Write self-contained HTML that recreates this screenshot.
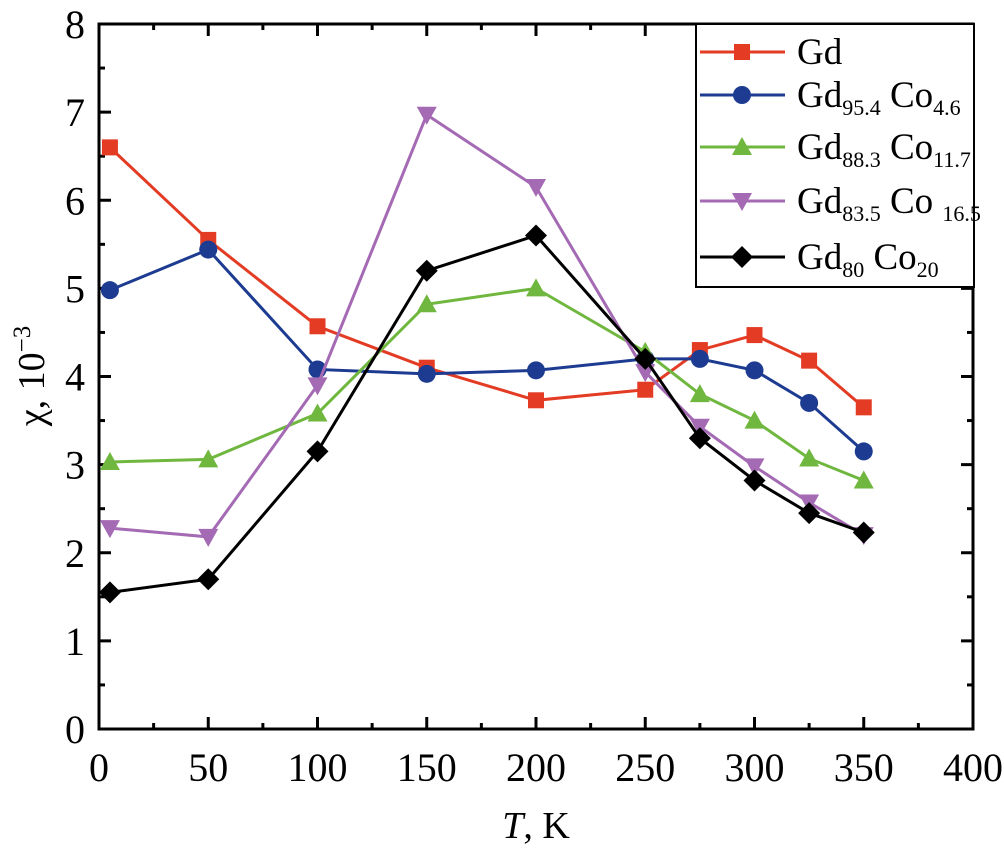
<!DOCTYPE html>
<html><head><meta charset="utf-8"><style>
html,body{margin:0;padding:0;background:#fff}
svg{display:block;font-family:"Liberation Serif",serif}
</style></head><body>
<svg id="c" width="1004" height="862" viewBox="0 0 1004 862" xmlns="http://www.w3.org/2000/svg"></svg>
<script>
const temps=[5,50,100,150,200,250,275,300,325,350];
const gd=[6.6,5.55,4.57,4.1,3.73,3.85,4.3,4.47,4.18,3.65];
const gd954=[4.98,5.44,4.08,4.03,4.07,4.2,4.2,4.07,3.7,3.15];
const gd883=[3.03,3.06,3.58,4.82,5.0,4.28,3.8,3.5,3.07,2.82];
const gd835=[2.28,2.18,3.9,6.97,6.15,4.05,3.43,2.98,2.57,2.2];
const gd80=[1.55,1.7,3.15,5.2,5.6,4.2,3.3,2.82,2.45,2.23];
const xTicks=[0,50,100,150,200,250,300,350,400];
const yTicks=[0,1,2,3,4,5,6,7,8];
const L=99,R=973,T=24,B=729;
const sx=v=>L+(v-0)/400*(R-L);
const sy=v=>B-(v-0)/8*(B-T);
const svg=document.getElementById('c');
const NS='http://www.w3.org/2000/svg';
function mk(tag,at,parent){const e=document.createElementNS(NS,tag);for(const k in at)e.setAttribute(k,at[k]);(parent||svg).appendChild(e);return e;}
let fr=mk('rect',{x:L,y:T,width:R-L,height:B-T,fill:'none',stroke:'#000','stroke-width':3});


for(let v=0;v<=400;v+=25){const x=sx(v),len=v%50===0?12:6;
 mk('line',{x1:x,y1:B,x2:x,y2:B-len,stroke:'#000','stroke-width':3});
 mk('line',{x1:x,y1:T,x2:x,y2:T+len,stroke:'#000','stroke-width':3});}
for(let v=0;v<=8;v+=0.5){const y=sy(v),len=v%1===0?12:6;
 mk('line',{x1:L,y1:y,x2:L+len,y2:y,stroke:'#000','stroke-width':3});
 mk('line',{x1:R,y1:y,x2:R-len,y2:y,stroke:'#000','stroke-width':3});}
xTicks.forEach(v=>{const t=mk('text',{x:sx(v),y:B+52,'text-anchor':'middle','font-size':40});t.textContent=v;
 
 });
yTicks.forEach(v=>{const t=mk('text',{x:L-14,y:sy(v)+14,'text-anchor':'end','font-size':40});t.textContent=v;
 
 });
let xt=mk('text',{x:536,y:838,'text-anchor':'middle','font-size':38});
xt.innerHTML='<tspan font-style="italic">T</tspan>, K';


let yt=mk('text',{x:0,y:0,'text-anchor':'middle','font-size':38,transform:'translate(44,376) rotate(-90)'});
yt.innerHTML='χ, 10<tspan dy="-14" font-size="25">−3</tspan>';


function marker(kind,x,y,col,g){
 if(kind==='s')return mk('rect',{x:x-8,y:y-8,width:16,height:16,fill:col},g);
 if(kind==='c')return mk('circle',{cx:x,cy:y,r:9,fill:col},g);
 if(kind==='u')return mk('polygon',{points:`${x},${y-10} ${x-10},${y+8} ${x+10},${y+8}`,fill:col},g);
 if(kind==='d')return mk('polygon',{points:`${x},${y+10} ${x-10},${y-8} ${x+10},${y-8}`,fill:col},g);
 return mk('polygon',{points:`${x},${y-11} ${x+11},${y} ${x},${y+11} ${x-11},${y}`,fill:col},g);}
const series=[[gd,'#e33b24','s','series-gd'],[gd954,'#1d3c91','c','series-gd95-co5'],[gd883,'#6fb73e','u','series-gd88-co12'],[gd835,'#a46ab4','d','series-gd83-co16'],[gd80,'#000000','k','series-gd80-co20']];
series.forEach(([d,col,k,name])=>{
 const g=mk('g',{});
 
 
 mk('polyline',{points:d.map((v,i)=>sx(temps[i])+','+sy(v)).join(' '),fill:'none',stroke:col,'stroke-width':3},g);
 d.forEach((v,i)=>marker(k,sx(temps[i]),sy(v),col,g));});
const lg=mk('g',{});


mk('rect',{x:696,y:24,width:278,height:263,fill:'#fff',stroke:'#000','stroke-width':2},lg);
const labels=['Gd','Gd<tspan dy="8" font-size="22">95.4</tspan><tspan dy="-8"> Co</tspan><tspan dy="8" font-size="22">4.6</tspan>','Gd<tspan dy="8" font-size="22">88.3</tspan><tspan dy="-8"> Co</tspan><tspan dy="8" font-size="22">11.7</tspan>','Gd<tspan dy="8" font-size="22">83.5</tspan><tspan dy="-8"> Co </tspan><tspan dy="8" font-size="22">16.5</tspan>','Gd<tspan dy="8" font-size="22">80</tspan><tspan dy="-8"> Co</tspan><tspan dy="8" font-size="22">20</tspan>'];
const ly=[52,95,147,201,257];
series.forEach(([d,col,k],i)=>{
 const e=mk('g',{},lg);
 
 
 mk('line',{x1:700,y1:ly[i],x2:785,y2:ly[i],stroke:col,'stroke-width':3},e);
 marker(k,742,ly[i],col,e);
 const t=mk('text',{x:797,y:ly[i]+12,'font-size':37},e);t.innerHTML=labels[i];});
</script>
</body></html>
